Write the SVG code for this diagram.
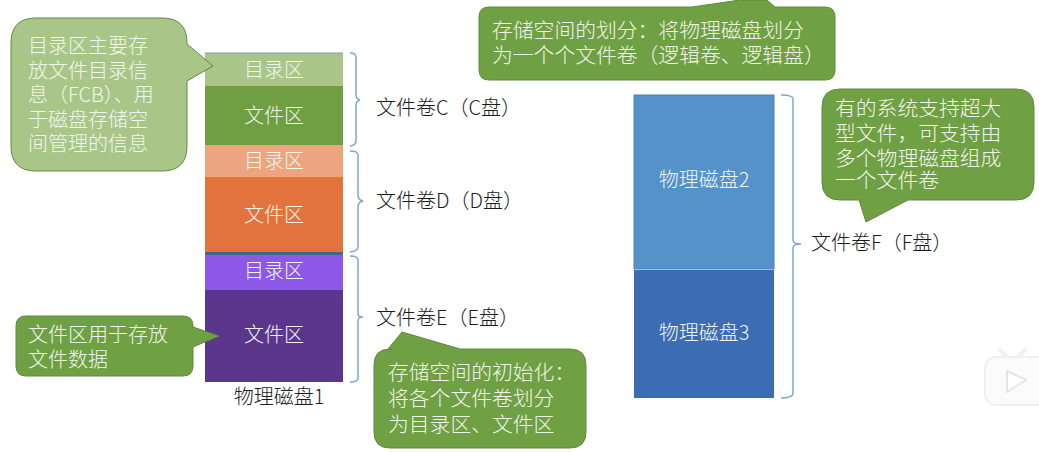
<svg xmlns="http://www.w3.org/2000/svg" width="1039" height="453" viewBox="0 0 1039 453">
<style>
text{font-family:"Noto Sans CJK SC","Noto Sans",sans-serif;font-size:20px;font-weight:300}
.w{fill:#f1f6ec}
.c{text-anchor:middle}
.k{fill:#1c1c1c}
.big{font-size:20.8px}
.call{stroke:#5f8a3e;stroke-width:1}
.g{fill:#70a044}
.lg{fill:#a9c688}
.b{fill:none;stroke:#7fa6d2;stroke-width:1.5}
</style>
<rect width="1039" height="453" fill="#fff"/>
<g id="connectors">
<path class="b" d="M350 53q6 0 6 4v38q0 4 4 5q-4 1-4 5v36q0 4-6 5"/>
<path class="b" d="M350 151q8 0 8 4v40q0 5 5 6q-5 1-5 6v40q0 4-8 5"/>
<path class="b" d="M350 256q8 0 8 4v54q0 3 5 3q-5 0-5 4v57q0 4-8 4"/>
<path class="b" d="M781 95q12 0 12 4v141q0 4 8 4q-8 0-8 4v145q0 5-12 5"/>
</g>
<g id="disk1">
<rect x="205" y="53" width="138" height="33" fill="#a9c688"/>
<rect x="205" y="86" width="138" height="59" fill="#6f9e43"/>
<rect x="205" y="145" width="138" height="32" fill="#eba57f"/>
<rect x="205" y="177" width="138" height="75" fill="#e2733c"/>
<rect x="205" y="252" width="138" height="3" fill="#44658f"/>
<rect x="205" y="255" width="138" height="35" fill="#8d58e8"/>
<rect x="205" y="290" width="138" height="92" fill="#5b368c"/>
<path d="M205 53h138" stroke="#7d9fbe" fill="none"/>
<text class="w c" x="274" y="77">目录区</text>
<text class="w c" x="274" y="123">文件区</text>
<text class="w c" x="274" y="168">目录区</text>
<text class="w c" x="274" y="222">文件区</text>
<text class="w c" x="274" y="278">目录区</text>
<text class="w c" x="274" y="342">文件区</text>
<text class="k c" x="279" y="404">物理磁盘1</text>
</g>
<g id="disk2">
<rect x="634" y="95" width="140" height="174" fill="#5592c9" stroke="#4a80b0"/>
<text class="w c" x="704" y="187">物理磁盘2</text>
</g>
<g id="disk3">
<rect x="634" y="270" width="140" height="128" fill="#3c6cb4"/>
<text class="w c" x="704" y="340">物理磁盘3</text>
</g>
<g id="label-c"><text class="k" x="376" y="115">文件卷C（C盘）</text></g>
<g id="label-d"><text class="k" x="376" y="208">文件卷D（D盘）</text></g>
<g id="label-e"><text class="k" x="376" y="325">文件卷E（E盘）</text></g>
<g id="label-f"><text class="k" x="811" y="250">文件卷F（F盘）</text></g>
<g id="callout-dir">
<path class="call lg" d="M36 18H162Q187 18 187 43V44L213 66L187 81V146Q187 171 162 171H36Q11 171 11 146V43Q11 18 36 18Z"/>
<text class="w" x="28" y="53">目录区主要存</text>
<text class="w" x="28" y="78">放文件目录信</text>
<text class="w" x="28" y="102">息（FCB）、用</text>
<text class="w" x="28" y="127">于磁盘存储空</text>
<text class="w" x="28" y="151">间管理的信息</text>
</g>
<g id="callout-file">
<path class="call g" d="M26 316H183Q193 316 193 326V327L219 336L193 347V366Q193 376 183 376H26Q16 376 16 366V326Q16 316 26 316Z"/>
<text class="w" x="28" y="342">文件区用于存放</text>
<text class="w" x="28" y="367">文件数据</text>
</g>
<g id="callout-init">
<path class="call g" d="M392 349H388L402 332L460 349H570Q586 349 586 365V432Q586 448 570 448H390Q374 448 374 432V365Q374 349 390 349Z"/>
<text class="w big" x="388" y="380">存储空间的初始化：</text>
<text class="w big" x="388" y="406">将各个文件卷划分</text>
<text class="w big" x="388" y="432">为目录区、文件区</text>
</g>
<g id="callout-split">
<path class="call g" d="M489 7H692L740 0H767L775 7H825Q835 7 835 17V70Q835 80 825 80H489Q479 80 479 70V17Q479 7 489 7Z"/>
<text class="w big" x="492" y="38">存储空间的划分：将物理磁盘划分</text>
<text class="w big" x="492" y="63">为一个个文件卷（逻辑卷、逻辑盘）</text>
</g>
<g id="callout-large">
<path class="call g" d="M840 89H1016Q1034 89 1034 107V182Q1034 200 1016 200H908L866 222L859 200H840Q822 200 822 182V107Q822 89 840 89Z"/>
<text class="w big" x="835" y="116">有的系统支持超大</text>
<text class="w big" x="835" y="141">型文件，可支持由</text>
<text class="w big" x="835" y="166">多个物理磁盘组成</text>
<text class="w big" x="835" y="188">一个文件卷</text>
</g>
<g id="watermark">
<path d="M1000 350l8 8M1025 350l-8 8" stroke="#f0f0f0" stroke-width="4" stroke-linecap="round"/>
<rect x="985" y="357" width="70" height="48" rx="11" fill="#fbfbfb" stroke="#f0f0f0" stroke-width="2"/>
<path d="M1007 371L1026 380L1007 392Z" fill="#fff" stroke="#e6e6e6" stroke-width="2" stroke-linejoin="round"/>
</g>
</svg>
